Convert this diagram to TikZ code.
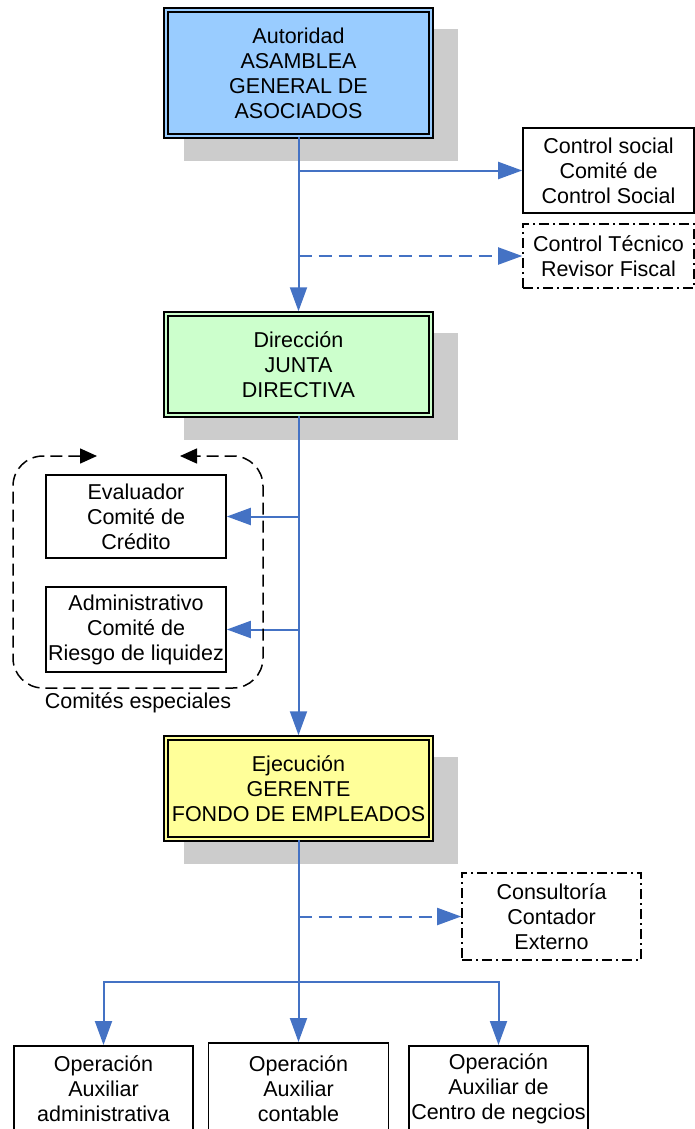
\documentclass[tikz,border=0pt]{standalone}
\usepackage{fontspec}
\setmainfont{Liberation Sans}
\usetikzlibrary{arrows.meta}
\definecolor{lnblue}{HTML}{4472C4}
\definecolor{fblue}{HTML}{99CCFF}
\definecolor{fgreen}{HTML}{CCFFCC}
\definecolor{fyellow}{HTML}{FFFF99}
\definecolor{shgray}{HTML}{CCCCCC}
\pgfdeclarelayer{bg}
\pgfsetlayers{bg,main}
\begin{document}
\begin{tikzpicture}[x=1pt,y=-1pt,
  every node/.style={font=\fontsize{21.5}{25}\selectfont, align=center, inner sep=0pt},
  mainbox/.style={draw=black, line width=1.5pt, double distance=2.4pt},
  plainbox/.style={draw=black, line width=1.6pt},
  ddbox/.style={draw=black, line width=1.6pt, dash pattern=on 10pt off 4pt on 2pt off 4pt},
  conn/.style={draw=lnblue, line width=2pt, -{Triangle[length=24pt,width=17pt]}},
  dconn/.style={conn, dash pattern=on 13pt off 7pt},
  shadowfill/.style={fill=shgray},
]
\useasboundingbox (0,0) rectangle (695,1129);
\clip (0,0) rectangle (695,1129);

% boxes
\node[mainbox, fill=fblue, double=fblue, minimum width=265, minimum height=126] (aut) at (298.5,73) {Autoridad\\ASAMBLEA\\GENERAL DE\\ASOCIADOS};
\node[plainbox, minimum width=171, minimum height=85] (cs) at (608.5,170.5) {Control social\\Comité de\\Control Social};
\node[ddbox, minimum width=171, minimum height=64] (ct) at (608.5,256) {Control Técnico\\Revisor Fiscal};
\node[mainbox, fill=fgreen, double=fgreen, minimum width=265, minimum height=101] (dir) at (298.5,364.5) {Dirección\\JUNTA\\DIRECTIVA};
\node[plainbox, minimum width=180, minimum height=83] (ev) at (136,516.5) {Evaluador\\Comité de\\Crédito};
\node[plainbox, minimum width=180, minimum height=85] (adm) at (136,629.5) {Administrativo\\Comité de\\Riesgo de liquidez};
\node (cesp) at (138,703) {Comités especiales};
\node[mainbox, fill=fyellow, double=fyellow, minimum width=265, minimum height=101] (eje) at (298.5,788.5) {Ejecución\\GERENTE\\FONDO DE EMPLEADOS};
\node[ddbox, minimum width=179, minimum height=87] (cons) at (551.5,916.5) {Consultoría\\Contador\\Externo};
\node[plainbox, anchor=north, minimum width=179, minimum height=86] (op1) at (103.5,1045) {Operación\\Auxiliar\\administrativa};
\node[plainbox, anchor=north, minimum width=180, minimum height=91] (op2) at (298.5,1042) {Operación\\Auxiliar\\contable};
\node[plainbox, anchor=north, minimum width=179, minimum height=86] (op3) at (498.5,1045) {Operación\\Auxiliar de\\Centro de negcios};

% shadows
\begin{pgfonlayer}{bg}
\foreach \n in {aut,dir,eje}{
  \fill[shadowfill] ([xshift=19pt,yshift=-20pt]\n.north west) rectangle ([xshift=26pt,yshift=-24pt]\n.south east);
}
\end{pgfonlayer}

% connectors
\draw[conn, shorten >=2pt] (aut.south) -- (dir.north);
\draw[conn] (aut.south |- cs.west) -- (cs.west);
\draw[dconn] (aut.south |- ct.west) -- (ct.west);
\draw[conn, shorten >=2pt] (dir.south) -- (eje.north);
\draw[conn] (dir.south |- ev.east) -- (ev.east);
\draw[conn] (dir.south |- adm.east) -- (adm.east);
\draw[dconn] (eje.south |- cons.west) -- (cons.west);
\draw[conn] (eje.south) -- (op2.north);
\coordinate (jn) at (298.5,982);
\draw[conn] (jn) -| (op1.north);
\draw[conn] (jn) -| (op3.north);

% special committees loop
\draw[black, line width=1.5pt, dash pattern=on 12pt off 6pt, rounded corners=30pt,
  {Triangle[length=17pt,width=15pt]}-{Triangle[length=17pt,width=15pt]}]
  (97,456) -- (13,456) -- (13,688) -- (263,688) -- (263,456) -- (180,456);
\end{tikzpicture}
\end{document}
